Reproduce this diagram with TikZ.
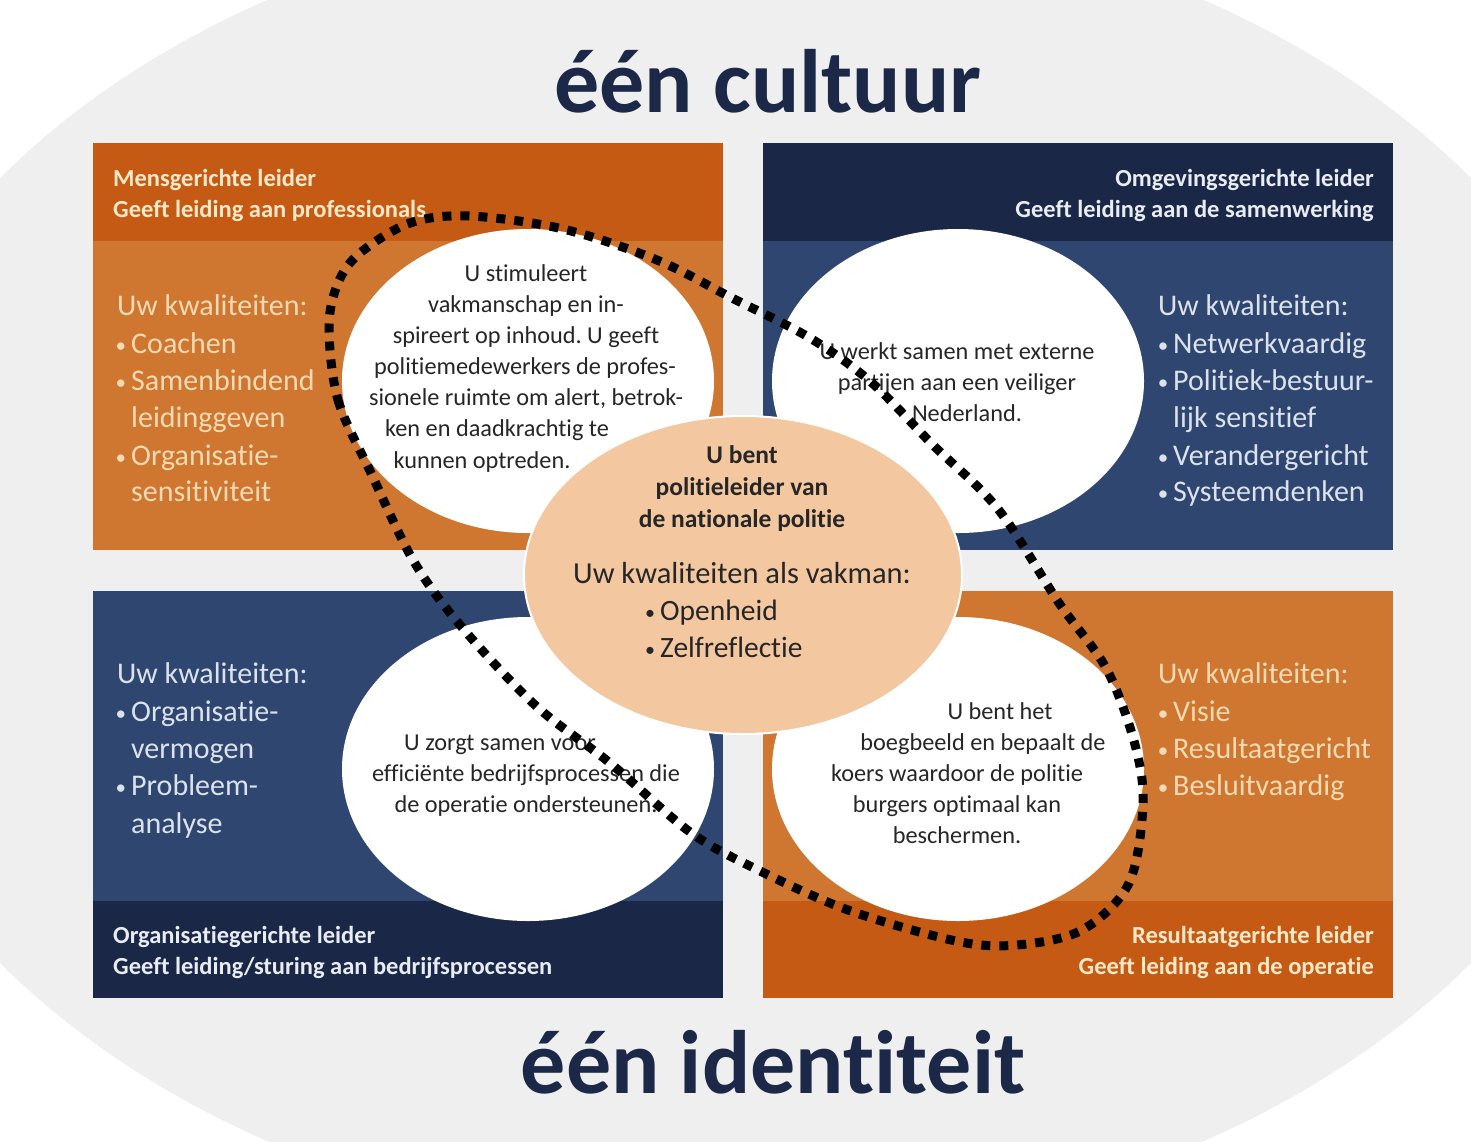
\documentclass[tikz,border=0pt]{standalone}
\usepackage{fontspec}
\setmainfont{Carlito}[Ligatures=CommonOff]
\frenchspacing
\definecolor{orH}{HTML}{C55A14}
\definecolor{orB}{HTML}{CF7631}
\definecolor{nvH}{HTML}{1B2747}
\definecolor{blB}{HTML}{2F4770}
\definecolor{bggray}{HTML}{EFEFEF}
\definecolor{peach}{HTML}{F3C8A0}
\definecolor{titlec}{HTML}{1B2847}
\definecolor{crO}{HTML}{FDE9C9}
\definecolor{kwO}{HTML}{F7DAB2}
\definecolor{crB}{HTML}{E8ECF3}
\definecolor{kwB}{HTML}{DCE2EC}
\definecolor{dtxt}{HTML}{262626}
\newcommand\tl[5]{\node[#1] (#2) at (#3,#4) {#5};}
\newcommand\bul{\llap{\raisebox{1pt}{\fontsize{21}{21}\selectfont •}\hspace{5pt}}}
\newcommand\cbul{\raisebox{1pt}{\fontsize{20}{20}\selectfont •}\hspace{5pt}}
\tikzset{
  ttl/.style={font=\fontsize{90}{90}\selectfont\bfseries, text=titlec, inner sep=0, anchor=base},
  hdr/.style={font=\fontsize{24.5}{24.5}\selectfont\bfseries, inner sep=0},
  kw/.style={font=\fontsize{30}{30}\selectfont, inner sep=0, anchor=base west},
  ct/.style={font=\fontsize{24.3}{24.3}\selectfont, text=dtxt, inner sep=0, anchor=base},
  cb/.style={font=\fontsize{25.5}{25.5}\selectfont\bfseries, text=dtxt, inner sep=0, anchor=base},
  ck/.style={font=\fontsize{30.5}{30.5}\selectfont, text=dtxt, inner sep=0},
  cl/.style={font=\fontsize{29.5}{29.5}\selectfont, text=dtxt, inner sep=0},
  dotloop/.style={draw=black, line width=9pt, dash pattern=on 9pt off 9pt},
}
\begin{document}
\begin{tikzpicture}[x=1pt,y=-1pt]
\useasboundingbox (0,0) rectangle (1471,1141);
\fill[white] (0,0) rectangle (1471,1141);
\begin{scope}
\clip (0,0) rectangle (1471,1141);
\fill[bggray] (735.5,570.5) ellipse [x radius=911, y radius=665];
\end{scope}
% boxes
\fill[orH] (93,143) rectangle (723,241);
\fill[orB] (93,241) rectangle (723,550);
\fill[nvH] (763,143) rectangle (1393,241);
\fill[blB] (763,241) rectangle (1393,550);
\fill[blB] (93,591) rectangle (723,901);
\fill[nvH] (93,901) rectangle (723,998);
\fill[orB] (763,591) rectangle (1393,901);
\fill[orH] (763,901) rectangle (1393,998);
% white circles
\fill[white] (528,381) ellipse [x radius=186, y radius=152];
\fill[white] (958,381) ellipse [x radius=186, y radius=152];
\fill[white] (528,769) ellipse [x radius=186, y radius=152];
\fill[white] (958,769) ellipse [x radius=186, y radius=152];
% centre
\filldraw[fill=peach, draw=white, line width=2pt] (743,575) ellipse [x radius=219, y radius=159];
% titles
\tl{ttl}{t1}{768}{112}{één cultuur}
\tl{ttl}{t2}{773}{1093}{één identiteit}
% headers
\tl{hdr, text=crO, anchor=base west}{h1a}{113}{186}{Mensgerichte leider}
\tl{hdr, text=crO, anchor=base west}{h1b}{113}{217}{Geeft leiding aan professionals}
\tl{hdr, text=crB, anchor=base east}{h2a}{1374}{186}{Omgevingsgerichte leider}
\tl{hdr, text=crB, anchor=base east}{h2b}{1374}{217}{Geeft leiding aan de samenwerking}
\tl{hdr, text=crB, anchor=base west}{h3a}{113}{943}{Organisatiegerichte leider}
\tl{hdr, text=crB, anchor=base west}{h3b}{113}{974}{Geeft leiding/sturing aan bedrijfsprocessen}
\tl{hdr, text=crO, anchor=base east}{h4a}{1374}{943}{Resultaatgerichte leider}
\tl{hdr, text=crO, anchor=base east}{h4b}{1374}{974}{Geeft leiding aan de operatie}
% lists TL
\tl{kw, text=kwO}{k1a}{117}{315}{Uw kwaliteiten:}
\tl{kw, text=kwO}{k1b}{131}{353}{\bul Coachen}
\tl{kw, text=kwO}{k1c}{131}{390}{\bul Samenbindend}
\tl{kw, text=kwO}{k1d}{131}{427}{leidinggeven}
\tl{kw, text=kwO}{k1e}{131}{465}{\bul Organisatie-}
\tl{kw, text=kwO}{k1f}{131}{501}{sensitiviteit}
% lists TR
\tl{kw, text=kwB}{k2a}{1158}{315}{Uw kwaliteiten:}
\tl{kw, text=kwB}{k2b}{1173}{353}{\bul Netwerkvaardig}
\tl{kw, text=kwB}{k2c}{1173}{390}{\bul Politiek-bestuur-}
\tl{kw, text=kwB}{k2d}{1173}{427}{lijk sensitief}
\tl{kw, text=kwB}{k2e}{1173}{465}{\bul Verandergericht}
\tl{kw, text=kwB}{k2f}{1173}{501}{\bul Systeemdenken}
% lists BL
\tl{kw, text=kwB}{k3a}{117}{683}{Uw kwaliteiten:}
\tl{kw, text=kwB}{k3b}{131}{721}{\bul Organisatie-}
\tl{kw, text=kwB}{k3c}{131}{758}{vermogen}
\tl{kw, text=kwB}{k3d}{131}{795}{\bul Probleem-}
\tl{kw, text=kwB}{k3e}{131}{833}{analyse}
% lists BR
\tl{kw, text=kwO}{k4a}{1158}{683}{Uw kwaliteiten:}
\tl{kw, text=kwO}{k4b}{1173}{721}{\bul Visie}
\tl{kw, text=kwO}{k4c}{1173}{758}{\bul Resultaatgericht}
\tl{kw, text=kwO}{k4d}{1173}{795}{\bul Besluitvaardig}
% circle TL
\tl{ct}{c1a}{526}{281}{U stimuleert}
\tl{ct}{c1b}{526}{312}{vakmanschap en in-}
\tl{ct}{c1c}{526}{343}{spireert op inhoud. U geeft}
\tl{ct}{c1d}{525}{374}{politiemedewerkers de profes-}
\tl{ct}{c1e}{526}{405}{sionele ruimte om alert, betrok-}
\tl{ct}{c1f}{497}{436}{ken en daadkrachtig te}
\tl{ct}{c1g}{482}{468}{kunnen optreden.}
% circle TR
\tl{ct}{c2a}{957}{359}{U werkt samen met externe}
\tl{ct}{c2b}{957}{390}{partijen aan een veiliger}
\tl{ct}{c2c}{967}{421}{Nederland.}
% circle BL
\tl{ct}{c3a}{500}{750}{U zorgt samen voor}
\tl{ct}{c3b}{526}{781}{efficiënte bedrijfsprocessen die}
\tl{ct}{c3c}{526}{812}{de operatie ondersteunen.}
% circle BR
\tl{ct}{c4a}{1000}{719}{U bent het}
\tl{ct}{c4b}{983}{750}{boegbeeld en bepaalt de}
\tl{ct}{c4c}{957}{781}{koers waardoor de politie}
\tl{ct}{c4d}{957}{812}{burgers optimaal kan}
\tl{ct}{c4e}{957}{843}{beschermen.}
% centre text
\tl{cb}{m1}{742}{463}{U bent}
\tl{cb}{m2}{742}{495}{politieleider van}
\tl{cb}{m3}{742}{527}{de nationale politie}
\tl{ck, anchor=base}{m4}{742}{583}{Uw kwaliteiten als vakman:}
\tl{cl, anchor=base west}{m5}{645}{620}{\cbul Openheid}
\tl{cl, anchor=base west}{m6}{645}{657}{\cbul Zelfreflectie}
% dotted loop
\draw[dotloop] plot[smooth cycle, tension=0.55] coordinates {
 (329,327) (338,400) (371,473) (413,560) (460,625) (535,705) (610,763)
 (690,832) (754,868) (848,910) (956,941) (1017,945) (1082,930) (1129,883)
 (1143,803) (1134,741) (1106,668) (1059,603) (998,509) (932,444) (871,382)
 (810,338) (732,298) (657,260) (563,229) (469,216) (410,223) (360,253) (338,283)};
\end{tikzpicture}
\end{document}
